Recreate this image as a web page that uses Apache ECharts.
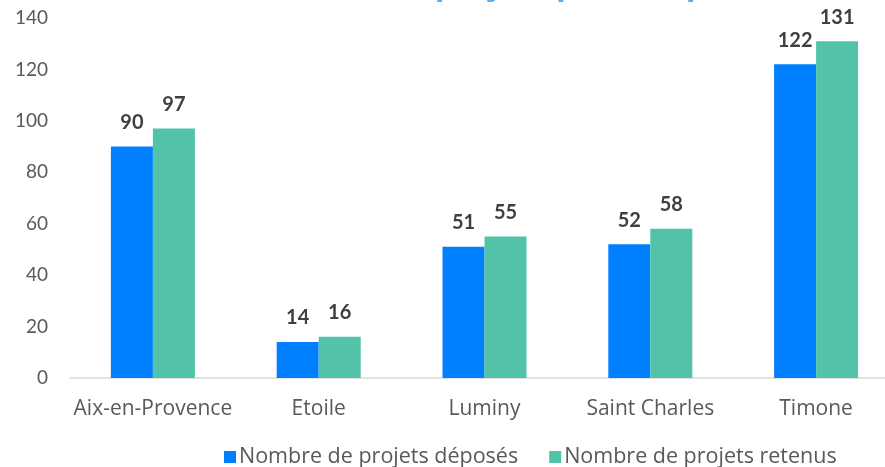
<!DOCTYPE html>
<html>
<head>
<meta charset="utf-8">
<script src="https://cdn.jsdelivr.net/npm/echarts@6/dist/echarts.min.js"></script>
<style>
  html, body { margin: 0; padding: 0; background: #fff; overflow: hidden; }
  /* le graphique déborde à droite comme dans l'original */
  #chart { width: 899px; height: 467px; }
</style>
</head>
<body>
<div id="chart"></div>
<script>
// données
const campus = ['Aix-en-Provence', 'Etoile', 'Luminy', 'Saint Charles', 'Timone']
const deposes = [90, 14, 51, 52, 122]
const retenus = [97, 16, 55, 58, 131]
const seriesNames = ['Nombre de projets déposés', 'Nombre de projets retenus']
const titleText = 'Nombre de projets par campus'

const FONT = 'Lato'
const FONT_WIDE = 'Open Sans'
const TEXT_COLOR = '#595959'
const BLUE = '#0080ff'
const GREEN = '#52c3a9'

const chart = echarts.init(document.getElementById('chart'))

const labelStyle = {
  show: true,
  position: 'top',
  distance: 14,
  color: '#404040',
  fontFamily: FONT,
  fontWeight: 'bold',
  fontSize: 20
}

chart.setOption({
  animation: false,
  backgroundColor: '#fff',
  title: {
    // le titre est coupé en haut dans l'original, seuls les jambages dépassent
    text: titleText,
    left: 243,
    top: -36,
    textStyle: {
      color: '#5badf8',
      fontFamily: FONT_WIDE,
      fontWeight: 'bold',
      fontSize: 32
    }
  },
  legend: {
    bottom: -6,
    left: 219,
    itemWidth: 12,
    itemHeight: 12,
    itemGap: 31,
    icon: 'rect',
    textStyle: { color: TEXT_COLOR, fontFamily: FONT_WIDE, fontSize: 21.5, padding: [0, 0, 0, -2] },
    data: seriesNames
  },
  grid: { left: 70, right: 0, top: 18, bottom: 89, containLabel: false },
  xAxis: {
    type: 'category',
    data: campus,
    axisLine: { lineStyle: { color: '#d9d9d9', width: 1.5 } },
    axisTick: { show: false },
    axisLabel: { interval: 0, color: TEXT_COLOR, fontFamily: FONT_WIDE, fontSize: 21, margin: 21 }
  },
  yAxis: {
    type: 'value',
    min: 0,
    max: 140,
    interval: 20,
    splitLine: { show: false },
    axisLine: { show: false },
    axisTick: { show: false },
    axisLabel: { color: TEXT_COLOR, fontFamily: FONT, fontSize: 19, margin: 22 }
  },
  series: [
    {
      name: seriesNames[0],
      type: 'bar',
      data: deposes,
      barWidth: 42,
      barGap: '0%',
      itemStyle: { color: BLUE },
      label: labelStyle
    },
    {
      name: seriesNames[1],
      type: 'bar',
      data: retenus,
      barWidth: 42,
      barGap: '0%',
      itemStyle: { color: GREEN },
      label: labelStyle
    }
  ]
})
</script>
</body>
</html>
